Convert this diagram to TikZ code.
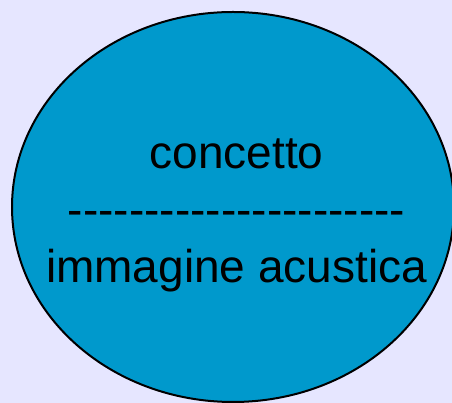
\documentclass[tikz,border=0pt]{standalone}
\usepackage{fontspec}
\setmainfont{Liberation Sans}
\usetikzlibrary{positioning}
\definecolor{sfondo}{RGB}{230,230,255}
\definecolor{azzurro}{RGB}{0,153,204}
\tikzset{
	% ellipse of the sign
	segno/.style={fill=azzurro,draw=black,line width=2pt},
	% text inside
	testo/.style={align=center,inner sep=0pt,font=\fontsize{46}{57}\selectfont},
}
\begin{document}
\begin{tikzpicture}[x=1pt,y=1pt]
% background
\fill[sfondo] (0,0) rectangle (452,403);
\useasboundingbox (0,0) rectangle (452,403);
% the ellipse
\draw[segno] (233,196) ellipse [x radius=221, y radius=195];
% the two faces of the sign
\node[testo] (segnotesto) at (236.5,188) {concetto\\-{}-{}-{}-{}-{}-{}-{}-{}-{}-{}-{}-{}-{}-{}-{}-{}-{}-{}-{}-{}-{}-\\immagine acustica};
\end{tikzpicture}
\end{document}
